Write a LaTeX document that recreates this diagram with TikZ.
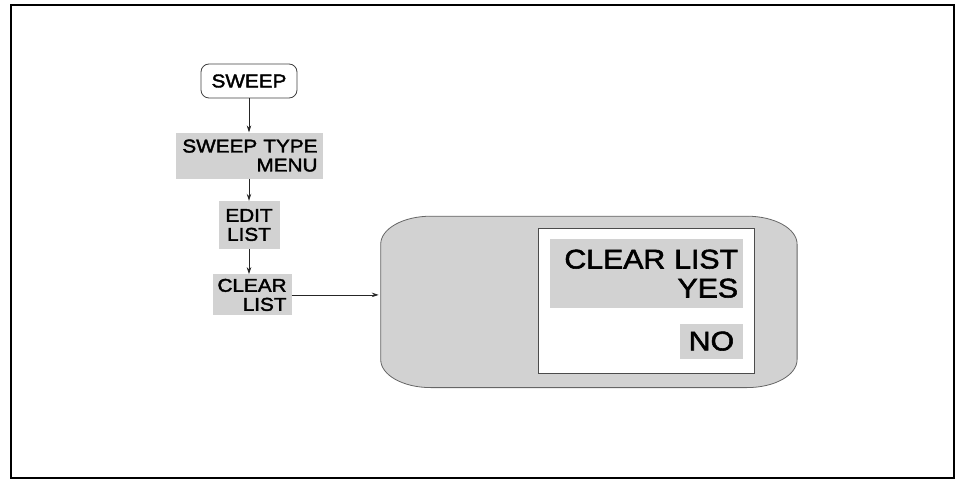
\documentclass[tikz,border=0pt]{standalone}
\usepackage{fontspec}
\newfontfamily\keyfont[FakeStretch=1.12,FakeBold=2]{Liberation Sans}
\usepackage{tikz}
\usetikzlibrary{arrows.meta, positioning, calc}

\begin{document}
\begin{tikzpicture}[
    x=1pt, y=1pt,
    node distance=25pt,
    hardkey/.style={rectangle, draw=black!75, line width=0.8pt, rounded corners=8pt, minimum width=96pt, minimum height=34pt, inner sep=0pt, font=\keyfont\fontsize{18.5}{19}\selectfont},
    softkey/.style={rectangle, fill=gray!35, inner xsep=5pt, inner ysep=0pt, align=right, font=\keyfont\fontsize{18.5}{19}\selectfont},
    bigkey/.style={softkey, font=\keyfont\fontsize{27}{29}\selectfont},
    screen/.style={rectangle, minimum width=416pt, minimum height=171pt, inner sep=0pt},
    panel/.style={rectangle, draw=black!70, line width=0.8pt, fill=white, minimum width=216pt, minimum height=145pt, inner sep=0pt},
    arrow/.style={->, >={Stealth[length=7pt, width=4.5pt]}, line width=0.8pt, black!85}
]
    \useasboundingbox (0,0) rectangle (956,480);
    \draw [line width=2pt] (11,2) rectangle (954,475);

    % key sequence
    \node [hardkey] (sweep) at (249,399) {SWEEP};
    \node [softkey, text width=137pt, minimum height=46pt, below=34pt of sweep] (menu) {SWEEP TYPE\\MENU};
    \node [softkey, text width=51pt, minimum height=48pt, align=center, below=22pt of menu] (edit) {EDIT\\LIST};
    \node [softkey, text width=69pt, minimum height=41pt, below=25pt of edit, xshift=3pt] (clear) {CLEAR\\LIST};

    % instrument display
    \node [screen, right=89pt of clear, yshift=-7pt] (screen) {};
    \draw [fill=gray!35, draw=black!60, line width=0.8pt]
        ([xshift=50pt]screen.north west) -- ([xshift=-50pt]screen.north east)
        arc [start angle=90, end angle=0, x radius=50pt, y radius=28pt]
        -- ([yshift=28pt]screen.south east)
        arc [start angle=0, end angle=-90, x radius=50pt, y radius=28pt]
        -- ([xshift=50pt]screen.south west)
        arc [start angle=270, end angle=180, x radius=50pt, y radius=28pt]
        -- ([yshift=-28pt]screen.north west)
        arc [start angle=180, end angle=90, x radius=50pt, y radius=28pt]
        -- cycle;
    \node [panel] (panel) at ([xshift=57pt, yshift=1pt]screen.center) {};
    \node [bigkey, text width=183pt, minimum height=69pt, anchor=north east] (prompt) at ([shift={(-11pt,-11pt)}]panel.north east) {CLEAR LIST\\YES};
    \node [bigkey, inner xsep=9pt, minimum height=35pt, anchor=north east] (no) at ([yshift=-15pt]prompt.south east) {NO};

    \draw [arrow] (sweep) -- (menu);
    \draw [arrow] (menu) -- (edit);
    \draw [arrow] (edit.south) -- (edit.south |- clear.north);
    \draw [arrow, shorten >=2pt] (clear.east) -- (clear.east -| screen.west);
\end{tikzpicture}
\end{document}
